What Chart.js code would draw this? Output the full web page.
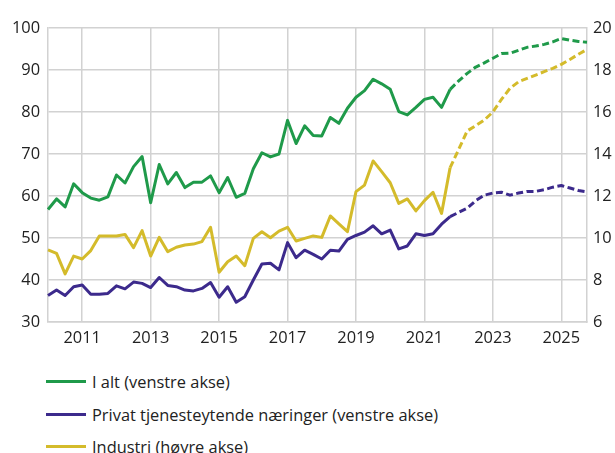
<!DOCTYPE html>
<html>
<head>
<meta charset="utf-8">
<script src="https://cdn.jsdelivr.net/npm/chart.js@4.4.1/dist/chart.umd.min.js"></script>
<style>
  html, body { margin: 0; padding: 0; background: #fff; }
  body { width: 615px; height: 453px; position: relative; overflow: hidden; font-family: "Open Sans", sans-serif; }
  #wrap { position: absolute; left: 0; top: 0; width: 615px; height: 355px; }
  #legend { position: absolute; left: 46px; top: 368px; }
  .item { position: relative; height: 32.5px; }
  .swatch { position: absolute; left: 0; top: 12px; width: 40px; height: 3px; }
  .label { position: absolute; left: 46px; top: 0; font-size: 16.4px; line-height: 27px; color: #222; white-space: nowrap; }
</style>
</head>
<body>
<div id="wrap"><canvas id="chart" width="615" height="355"></canvas></div>
<div id="legend"></div>
<script>
// quarterly, 2010Q1 .. 2025Q4 (from 2022Q1 projections)
const quarters = [];
for (let y = 2010; y <= 2025; y++) for (let q = 1; q <= 4; q++) quarters.push(y + 'Q' + q);

const seriesNames = ['I alt (venstre akse)', 'Privat tjenesteytende næringer (venstre akse)', 'Industri (høyre akse)'];
const seriesColors = ['#1f9a4a', '#3c2a8c', '#d4bb2b'];

const iAlt = [
  56.8, 59.3, 57.4, 62.9, 60.8, 59.5, 59.0, 59.8,
  65.0, 63.1, 67.0, 69.4, 58.4, 67.5, 62.9, 65.6,
  62.0, 63.3, 63.3, 64.8, 60.8, 64.4, 59.7, 60.6,
  66.5, 70.3, 69.3, 70.0, 78.0, 72.5, 76.7, 74.4,
  74.3, 78.7, 77.3, 80.9, 83.5, 85.1, 87.8, 86.7,
  85.4, 80.1, 79.3, 81.1, 83.0, 83.5, 81.1, 85.4,
  87.4, 89.2, 90.7, 91.7, 92.8, 93.9, 94.0, 94.7,
  95.4, 95.7, 96.1, 96.7, 97.5, 97.1, 96.8, 96.6
];
const privat = [
  36.3, 37.6, 36.3, 38.4, 38.8, 36.6, 36.6, 36.8,
  38.6, 37.9, 39.5, 39.2, 38.2, 40.6, 38.7, 38.4,
  37.6, 37.4, 38.0, 39.4, 35.9, 38.4, 34.7, 36.0,
  40.0, 43.8, 44.0, 42.4, 48.9, 45.3, 47.1, 46.1,
  45.0, 47.1, 46.9, 49.7, 50.6, 51.4, 52.9, 51.0,
  51.9, 47.4, 48.1, 51.0, 50.6, 51.0, 53.3, 55.1,
  56.1, 57.1, 58.9, 60.2, 60.7, 60.9, 60.2, 60.7,
  61.1, 61.1, 61.5, 62.1, 62.5, 61.9, 61.3, 61.0
];
const industri = [
  9.43, 9.27, 8.29, 9.14, 9.00, 9.40, 10.10, 10.10,
  10.10, 10.17, 9.54, 10.35, 9.14, 10.03, 9.35, 9.56,
  9.67, 9.71, 9.83, 10.51, 8.37, 8.87, 9.14, 8.68,
  9.98, 10.30, 10.01, 10.33, 10.51, 9.86, 9.98, 10.10,
  10.03, 11.05, 10.67, 10.30, 12.21, 12.52, 13.67, 13.16,
  12.63, 11.65, 11.86, 11.29, 11.78, 12.18, 11.17, 13.35,
  14.22, 15.10, 15.35, 15.62, 16.00, 16.60, 17.13, 17.44,
  17.60, 17.76, 17.92, 18.08, 18.27, 18.50, 18.75, 18.98
];
const leftTicks = [30, 40, 50, 60, 70, 80, 90, 100];
const rightTicks = [6, 8, 10, 12, 14, 16, 18, 20];
const firstProjection = 47; // segment from 2021Q4 onwards is dashed

const gridColor = '#d2d2d2';
const font = { family: '"Open Sans", sans-serif', size: 16.4 };

function dataset(label, data, color, axis) {
  return {
    label: label,
    data: data,
    yAxisID: axis,
    borderColor: color,
    borderWidth: 3,
    pointRadius: 0,
    tension: 0,
    fill: false,
    borderJoinStyle: 'round',
    segment: {
      borderDash: ctx => ctx.p0DataIndex >= firstProjection ? [7, 3.5] : undefined
    }
  };
}

const chart = new Chart(document.getElementById('chart'), {
  type: 'line',
  data: {
    labels: quarters,
    datasets: [
      dataset(seriesNames[2], industri, seriesColors[2], 'y1'),
      dataset(seriesNames[1], privat, seriesColors[1], 'y'),
      dataset(seriesNames[0], iAlt, seriesColors[0], 'y')
    ]
  },
  options: {
    responsive: false,
    animation: false,
    layout: { padding: { left: 12, right: 0, top: 28, bottom: 0 } },
    plugins: { legend: { display: false }, tooltip: { enabled: false } },
    scales: {
      x: {
        type: 'category',
        offset: false,
        afterFit: s => { s.height = 33; },
        grid: {
          drawTicks: false,
          lineWidth: 1.5,
          color: ctx => (ctx.index % 8 === 4) ? gridColor : 'rgba(0,0,0,0)'
        },
        border: { display: true, color: gridColor, width: 1.5 },
        ticks: {
          autoSkip: false,
          maxRotation: 0,
          padding: 6,
          color: '#222',
          font: font,
          callback: function (value, index) {
            const lab = quarters[index];
            const year = parseInt(lab.slice(0, 4));
            return (lab.endsWith('Q1') && year % 2 === 1) ? String(year) : '';
          }
        }
      },
      y: {
        position: 'left',
        min: 30,
        max: 100,
        afterFit: s => { s.width = 36; },
        afterBuildTicks: axis => { axis.ticks = leftTicks.map(v => ({ value: v })); },
        grid: { drawTicks: false, lineWidth: 1.5, color: gridColor },
        border: { display: true, color: gridColor, width: 1.5 },
        ticks: { padding: 8, color: '#222', font: font }
      },
      y1: {
        position: 'right',
        min: 6,
        max: 20,
        afterFit: s => { s.width = 28; },
        afterBuildTicks: axis => { axis.ticks = rightTicks.map(v => ({ value: v })); },
        grid: { display: false, drawTicks: false },
        border: { display: true, color: gridColor, width: 1.5 },
        ticks: { padding: 6, color: '#222', font: font }
      }
    }
  }
});

// legend, one entry per line as in the original
const legend = document.getElementById('legend');
[0, 1, 2].forEach(i => {
  const item = document.createElement('div');
  item.className = 'item';
  item.innerHTML = '<div class="swatch" style="background:' + seriesColors[i] + '"></div>' +
    '<div class="label">' + seriesNames[i] + '</div>';
  legend.appendChild(item);
});
</script>
</body>
</html>
